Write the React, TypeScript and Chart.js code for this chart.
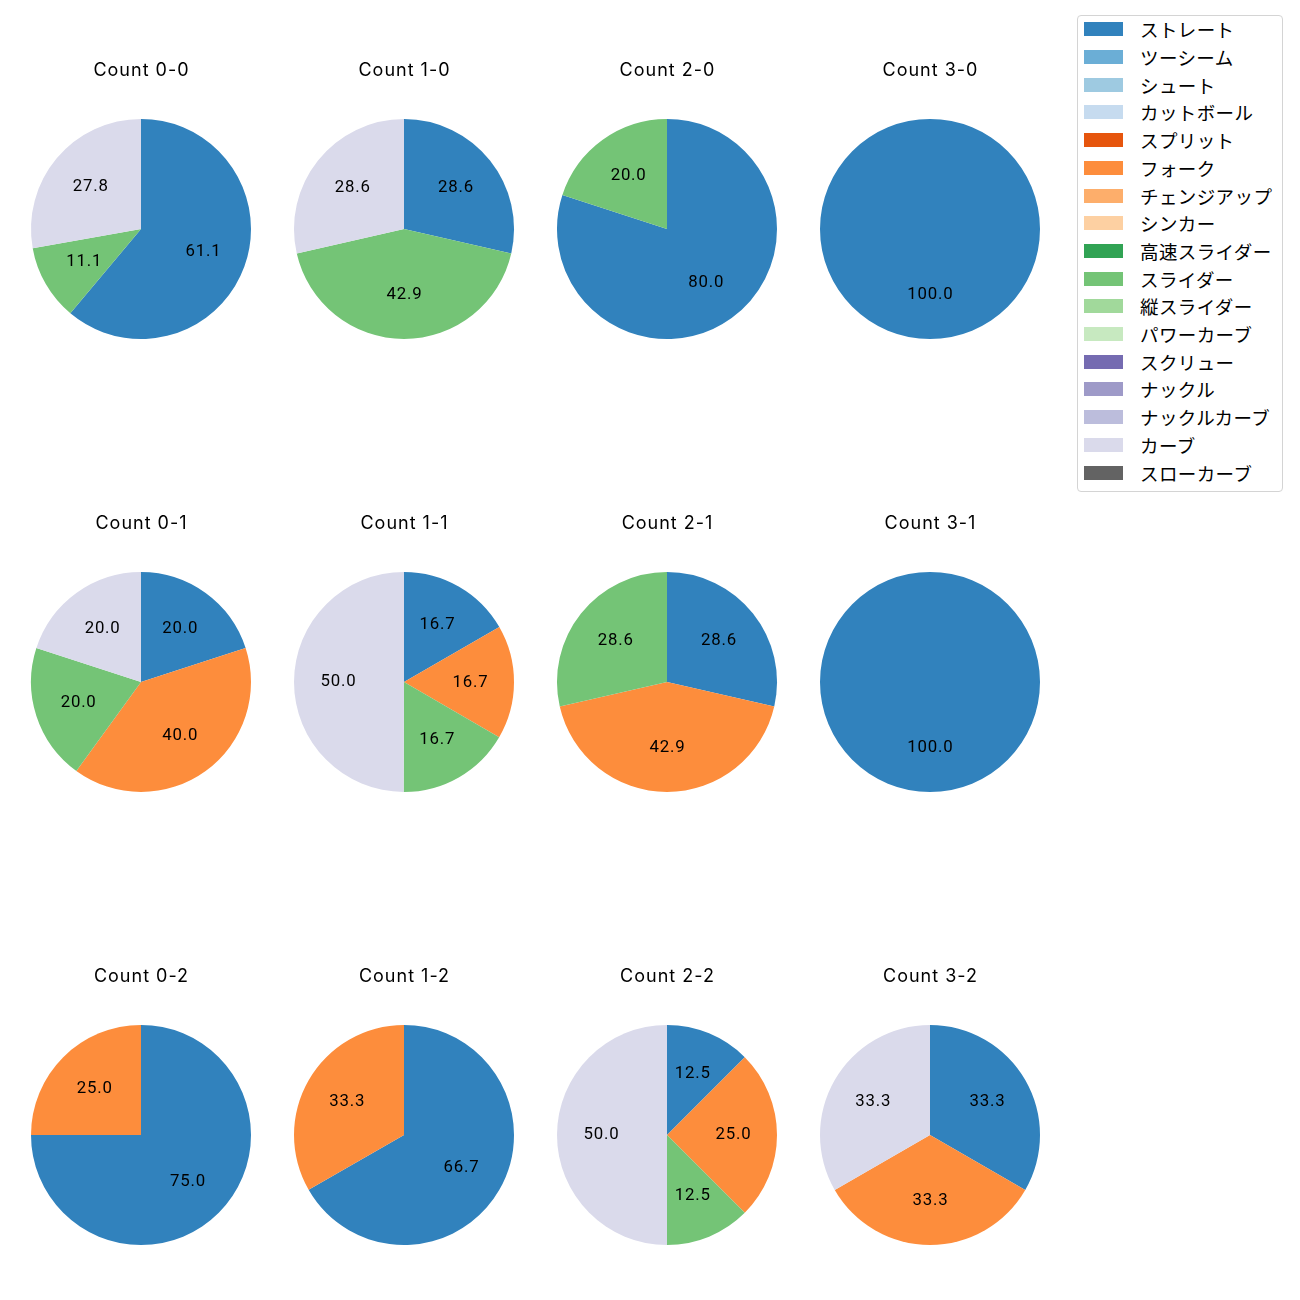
import React, { useEffect, useRef } from "react";
import { Chart, registerables } from "chart.js";

Chart.register(...registerables);

const CJK_FONT = "'Noto Sans CJK JP', 'Noto Sans', sans-serif";
const LATIN_FONT = "Inter, 'Noto Sans CJK JP', sans-serif";
const DIGIT_FONT = "Roboto, Inter, sans-serif";

const pitchTypes = [
  "ストレート",
  "ツーシーム",
  "シュート",
  "カットボール",
  "スプリット",
  "フォーク",
  "チェンジアップ",
  "シンカー",
  "高速スライダー",
  "スライダー",
  "縦スライダー",
  "パワーカーブ",
  "スクリュー",
  "ナックル",
  "ナックルカーブ",
  "カーブ",
  "スローカーブ",
];

const pitchColors = [
  "#3182bd",
  "#6baed6",
  "#9ecae1",
  "#c6dbef",
  "#e6550d",
  "#fd8d3c",
  "#fdae6b",
  "#fdd0a2",
  "#31a354",
  "#74c476",
  "#a1d99b",
  "#c7e9c0",
  "#756bb1",
  "#9e9ac8",
  "#bcbddc",
  "#dadaeb",
  "#636363",
];

const countTitles = [
  "Count 0-0", "Count 1-0", "Count 2-0", "Count 3-0",
  "Count 0-1", "Count 1-1", "Count 2-1", "Count 3-1",
  "Count 0-2", "Count 1-2", "Count 2-2", "Count 3-2",
];

// percentage shares per count (same order as countTitles)
const straightShare = [61.1, 28.6, 80.0, 100.0, 20.0, 16.7, 28.6, 100.0, 75.0, 66.7, 12.5, 33.3];
const forkShare = [0, 0, 0, 0, 40.0, 16.7, 42.9, 0, 25.0, 33.3, 25.0, 33.3];
const sliderShare = [11.1, 42.9, 20.0, 0, 20.0, 16.7, 28.6, 0, 0, 0, 12.5, 0];
const curveShare = [27.8, 28.6, 0, 0, 20.0, 50.0, 0, 0, 0, 0, 50.0, 33.3];

function valuesFor(i: number): number[] {
  const v = new Array(pitchTypes.length).fill(0);
  v[pitchTypes.indexOf("ストレート")] = straightShare[i];
  v[pitchTypes.indexOf("フォーク")] = forkShare[i];
  v[pitchTypes.indexOf("スライダー")] = sliderShare[i];
  v[pitchTypes.indexOf("カーブ")] = curveShare[i];
  return v;
}

const pctLabels = {
  id: "pctLabels",
  afterDatasetsDraw(chart: any) {
    const meta = chart.getDatasetMeta(0);
    const data = chart.data.datasets[0].data as number[];
    const total = data.reduce((a, b) => a + b, 0);
    const ctx = chart.ctx as any;
    ctx.save();
    ctx.font = `16.8px ${DIGIT_FONT}`;
    ctx.letterSpacing = "0.8px";
    ctx.fillStyle = "#000";
    ctx.textAlign = "center";
    ctx.textBaseline = "alphabetic";
    meta.data.forEach((arc: any, i: number) => {
      const v = data[i];
      if (!v) return;
      const p = arc.getProps(["x", "y", "startAngle", "endAngle", "outerRadius"], true);
      const mid = (p.startAngle + p.endAngle) / 2;
      const r = p.outerRadius * 0.6;
      const tx = p.x + Math.cos(mid) * r;
      const ty = p.y + Math.sin(mid) * r;
      ctx.fillText(((v / total) * 100).toFixed(1), tx + 0.4, ty - 1.5 + 5.9);
    });
    ctx.restore();
  },
};

const cellTitle = {
  id: "cellTitle",
  afterDraw(chart: any, _args: any, opts: any) {
    const a = chart.chartArea;
    const ctx = chart.ctx as any;
    ctx.save();
    ctx.font = `18px ${LATIN_FONT}`;
    ctx.letterSpacing = "1px";
    ctx.fillStyle = "#000";
    ctx.textAlign = "center";
    ctx.textBaseline = "alphabetic";
    ctx.fillText(opts.text, (a.left + a.right) / 2 + 0.5, a.top - 43.3);
    ctx.restore();
  },
};

const COL0 = 141;
const COL_STEP = 263;
const ROW0 = 229;
const ROW_STEP = 453;
const CANVAS_W = 260;
const CANVAS_H = 286;

function PieCell({ index }: { index: number }) {
  const ref = useRef<HTMLCanvasElement>(null);
  useEffect(() => {
    if (!ref.current) return;
    const chart = new Chart(ref.current, {
      type: "pie",
      data: {
        labels: pitchTypes,
        datasets: [
          {
            data: valuesFor(index),
            backgroundColor: pitchColors,
            borderWidth: 0,
          },
        ],
      },
      options: {
        responsive: false,
        animation: false,
        layout: { padding: { left: 20, right: 20, top: 61, bottom: 5 } },
        plugins: {
          legend: { display: false },
          tooltip: { enabled: false },
          title: { display: false },
          cellTitle: { text: countTitles[index] },
        } as any,
      },
      plugins: [pctLabels, cellTitle],
    });
    return () => chart.destroy();
  }, [index]);
  const col = index % 4;
  const row = Math.floor(index / 4);
  const cx = COL0 + COL_STEP * col;
  const cy = ROW0 + ROW_STEP * row;
  return (
    <canvas
      ref={ref}
      width={CANVAS_W}
      height={CANVAS_H}
      style={{ position: "absolute", left: cx - CANVAS_W / 2, top: cy - 171, width: CANVAS_W, height: CANVAS_H }}
    />
  );
}

function Legend() {
  return (
    <div
      style={{
        position: "absolute",
        left: 1077,
        top: 15,
        width: 206,
        height: 477,
        border: "1px solid #d4d4d4",
        borderRadius: 4,
        boxSizing: "border-box",
        background: "#fff",
        fontFamily: CJK_FONT,
      }}
    >
      {pitchTypes.map((name, k) => {
        const cy = 29.3 + 27.7 * k - 15;
        return (
          <React.Fragment key={name}>
            <div
              style={{
                position: "absolute",
                left: 6,
                top: cy - 7 - 1,
                width: 39,
                height: 14,
                background: pitchColors[k],
              }}
            />
            <div
              style={{
                position: "absolute",
                left: 62,
                top: cy - 12 - 1,
                height: 24,
                lineHeight: "24px",
                fontSize: 18.5,
                letterSpacing: "0.4px",
                color: "#000",
                whiteSpace: "nowrap",
              }}
            >
              {name}
            </div>
          </React.Fragment>
        );
      })}
    </div>
  );
}

export default function App() {
  return (
    <div
      style={{
        position: "absolute",
        left: 0,
        top: 0,
        width: 1300,
        height: 1300,
        background: "#fff",
        overflow: "hidden",
      }}
    >
      {countTitles.map((_, i) => (
        <PieCell key={i} index={i} />
      ))}
      <Legend />
    </div>
  );
}
